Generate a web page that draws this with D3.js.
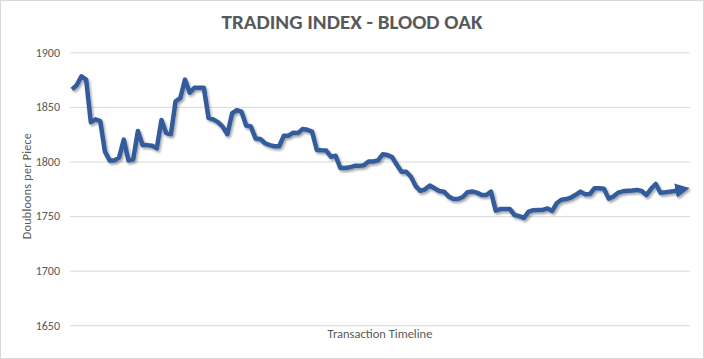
<!DOCTYPE html>
<html><head><meta charset="utf-8">
<script src="https://cdn.jsdelivr.net/npm/d3@7/dist/d3.min.js"></script>
<style>
html,body{margin:0;padding:0;background:#fff;}
svg{display:block;}
</style></head>
<body>
<script>
const chartTitle = "TRADING INDEX - BLOOD OAK";
const yAxisTitle = "Doubloons per Piece";
const xAxisTitle = "Transaction Timeline";
const yTicks = [1650, 1700, 1750, 1800, 1850, 1900];
const prices = [
 1866,1870,1878,1875,1836,1838.6,1837,1809,1801,1801,
 1803.5,1820,1801,1802,1828,1815,1815,1814.5,1812,1838,
 1826,1825,1855,1858,1875,1863,1867.6,1867.6,1867.6,1840,
 1838.6,1836,1832,1825,1844,1847,1845.6,1833,1832,1821,
 1820.6,1816.7,1815,1814,1814,1823.6,1823.6,1826.4,1826,1829.8,
 1829,1827.3,1810.5,1810.2,1810,1804.4,1805.3,1794,1794,1794.7,
 1796,1796,1796.5,1800,1800,1801,1806.6,1806,1804,1797,
 1790.7,1790.7,1786,1777.5,1773,1774.5,1778,1775.5,1773,1772.4,
 1768,1765.6,1765.6,1767.5,1771.8,1772.6,1771.5,1769.3,1769.3,1772.4,
 1755,1756.5,1756.5,1756.5,1751,1750,1748.3,1754,1755.4,1755.6,
 1755.6,1757,1754.7,1762,1765,1765.6,1767,1769.5,1772.4,1770,
 1770.2,1775.5,1775.5,1775,1766,1768,1771.5,1772.7,1773.2,1773.5,
 1774,1773,1769.3,1775,1779.4,1771.4,1771.8,1772.4,1773,1774,
 1774.8
];

const W = 704, H = 359;
const svg = d3.select("body").append("svg").attr("width", W).attr("height", H);
const font = "Carlito, Calibri, Lato, 'Open Sans', sans-serif";

svg.append("rect").attr("x",0.5).attr("y",0.5).attr("width",W-1).attr("height",H-1)
  .attr("fill","#fff").attr("stroke","#d9d9d9");

const defs = svg.append("defs");
const f = defs.append("filter").attr("id","sh").attr("x","-5%").attr("y","-5%").attr("width","110%").attr("height","120%");
f.append("feDropShadow").attr("dx",1.5).attr("dy",2).attr("stdDeviation",1.3)
  .attr("flood-color","#000").attr("flood-opacity",0.35);
defs.append("marker").attr("id","arr").attr("viewBox","0 0 10 10")
  .attr("refX",6).attr("refY",5).attr("markerWidth",3.2).attr("markerHeight",3.2)
  .attr("orient","auto").attr("markerUnits","strokeWidth")
  .append("path").attr("d","M0,0 L10,5 L0,10 z").attr("fill","#335b9c");

const x = d3.scaleLinear().domain([0, prices.length-1]).range([72, 684]);
const y = d3.scaleLinear().domain([1650, 1900]).range([325.3, 52.3]);

const yAxis = d3.axisLeft(y).tickValues(yTicks).tickSize(-(690-70)).tickPadding(10).tickFormat(d3.format("d"));
const gy = svg.append("g").attr("transform","translate(70,0)").call(yAxis);
gy.select(".domain").remove();
gy.selectAll(".tick line").attr("stroke","#d9d9d9").attr("stroke-width",1);
gy.selectAll(".tick text").attr("fill","#595959").style("font-family",font).style("font-size","12px");

svg.append("text").attr("x",352).attr("y",29).attr("text-anchor","middle")
  .style("font-family",font).style("font-size","21px").style("font-weight","bold")
  .attr("fill","#595959").text(chartTitle);

svg.append("text").attr("transform","translate(31,186) rotate(-90)").attr("text-anchor","middle")
  .style("font-family",font).style("font-size","12px").style("letter-spacing","0.3px")
  .attr("fill","#595959").text(yAxisTitle);

svg.append("text").attr("x",380).attr("y",338).attr("text-anchor","middle")
  .style("font-family",font).style("font-size","12.5px").attr("fill","#595959").text(xAxisTitle);

const line = d3.line().x((d,i)=>x(i)).y(d=>y(d));
svg.append("path").datum(prices).attr("d", line)
  .attr("fill","none").attr("stroke","#335b9c").attr("stroke-width",4.5)
  .attr("stroke-linejoin","round").attr("stroke-linecap","butt")
  .attr("marker-end","url(#arr)").attr("filter","url(#sh)");
</script>
</body></html>
